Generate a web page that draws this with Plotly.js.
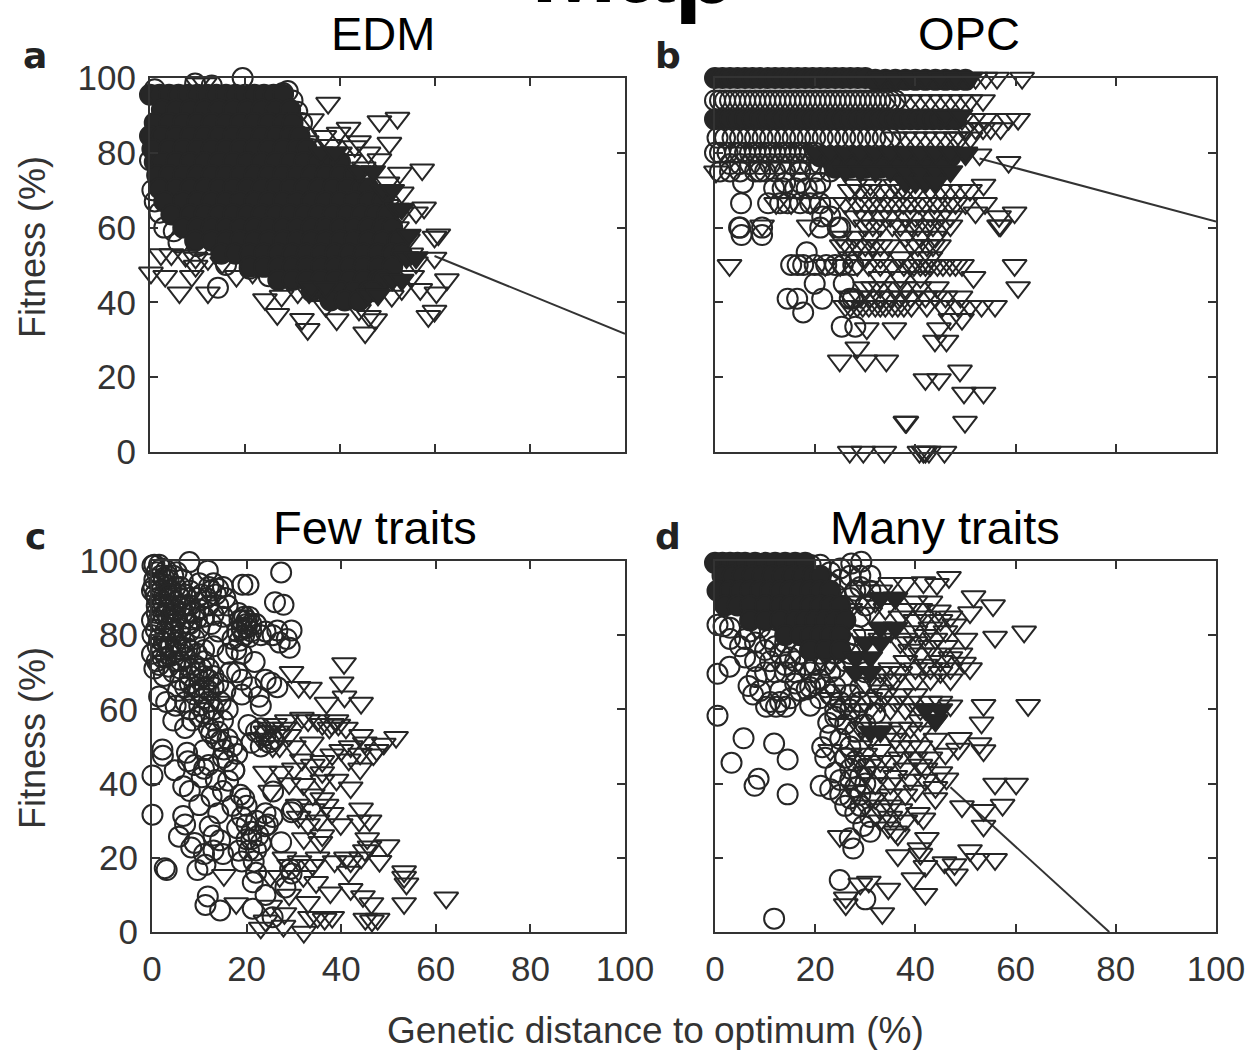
<!DOCTYPE html>
<html><head><meta charset="utf-8">
<script src="https://cdn.plot.ly/plotly-3.0.1.min.js"></script>
<style>html,body{margin:0;padding:0;background:#fff}</style></head>
<body><div id="chart" style="width:1248px;height:1050px"></div>
<script>
// Values: [fitness, [distance, distance, ...]] rows and [distance, fitness] points.
// "Core" rows stand for the areas where hundreds of overlapping open markers merge into solid black;
// individual markers cannot be read there, so they are drawn as filled markers at estimated places.
const panelTitles = ['EDM', 'OPC', 'Few traits', 'Many traits'];
const panelLetters = ['a', 'b', 'c', 'd'];
const tickValues = [0, 20, 40, 60, 80, 100];

const aCircleCore = [
 [95.5,[0,2,4,6,8,10,12,14,16,18,20,22,24,26,28]],
 [91.5,[-0.5,2.5,5.5,8.5,11.5,14.5,17.5,20.5,23.5,26.5,29.5]],
 [88,[-0.5,1,4,7,10,13,16,19,22,25,28,30]],
 [84.5,[0,2.5,5.5,8.5,11.5,14.5,17.5,20.5,23.5,26.5,29.5,31.5]],
 [81,[0.5,4,7,10,13,16,19,22,25,28,31,33]],
 [77.5,[1,2.5,5.5,8.5,11.5,14.5,17.5,20.5,23.5,26.5,29.5,32.5,35.5,38.5,40]],
 [74,[1.5,4,7,10,13,16,19,22,25,28,31,34,37,40,43]],
 [70.5,[2,5.5,8.5,11.5,14.5,17.5,20.5,23.5,26.5,29.5,32.5,35.5,38.5,41.5,44.5,46]],
 [67,[3,7,10,13,16,19,22,25,28,31,34,37,40,43,46,49]],
 [63.5,[4.5,8.5,11.5,14.5,17.5,20.5,23.5,26.5,29.5,32.5,35.5,38.5,41.5,44.5,47.5,50]],
 [60,[7,10,13,16,19,22,25,28,31,34,37,40,43,46,49,51]],
 [56.5,[9.5,13,16,19,22,25,28,31,34,37,40,43,46,49,52,52.5]],
 [53,[15,18,21,24,27,30,33,36,39,42,45,48,51,53]],
 [49.5,[21,24,27,30,33,36,39,42,45,48,51]],
 [46,[27,30,33,36,39,42,45,48,49]],
 [43,[34,37,40,43,46,47]],
 [40.5,[38,41,44]]];
const aTriangleCore = [[80,[36,39]],[75,[44,47]],[70,[49,51]],[65,[52,53]],[58,[54.5]],[52,[54,56]],[46,[51,53]],[42,[46,48]],[44,[34,37]]];
const aCircles = [[0.5,100.5],[1,97],[-0.5,94],[-1,90],[-0.8,87],[9.5,98.5],[13,98],[19.5,100],[29,96.5],[28,96],[30,94],[31,91],[32,88],[0,78],[-0.5,74],[0.5,70],[1,67],[2,64],[3,60],[5,59],[6,56],[10,55],[16,50],[21,49],[25,47],[14.3,43.9],[33,84],[34,81]];
const aTriangles = [[10,98.5],[11.5,98.5],[-0.3,82],[-0.2,78],[37.5,93.3],[34.1,88.9],[52.1,89.3],[48.3,88.4],[41.8,86.6],[39.7,85.3],[50.4,82.6],[36.7,84.4],[43.1,81.7],[57.3,75.5],[52.6,74.6],[48.3,78.2],[53,69.3],[57.7,65.3],[56,64],[60.7,58.1],[59.9,57.5],[59.9,51.9],[62.5,46.1],[60.3,42.6],[58.6,36.3],[59.9,37.7],[45.3,31.9],[33.2,32.8],[32,35.5],[39.3,35.4],[26.8,36.8],[24.2,40.8],[0.2,47.9],[3.2,47],[6.2,42.6],[12.2,42.6],[8.8,47],[2.3,52.8],[4.5,52.8],[7.5,52.4],[9.6,51.9],[12.2,51.5],[15.2,50.6],[18.2,47],[9.6,49.7],[21.6,47.9],[27.7,41.7],[31.1,42.6],[33.5,42.6],[37,39],[44,38],[46.1,36.3],[47.4,35.4],[50.9,41.7],[53,43.5],[55.2,47],[56,50.6],[56.9,43.5],[54.3,56.8],[55,53],[53,64],[50,72],[33,83],[35,80],[38,82],[40,80],[42,78],[45,76],[46,80],[44,83],[46,70],[50,66],[52,60]];

const bCircleCore = [
 [100,[0,1.5,3,4.5,6,7.5,9,10.5,12,13.5,15,16.5,18,19.5,21,22.5,24,25.5,27,28.5,30]],
 [99.5,[32,34,36,38,40,42,44,46,48,50]],
 [89,[0,1.5,3,4.5,6,7.5,9,10.5,12,13.5,15,16.5,18,19.5,21,22.5,24,25.5,27,28.5,30,31.5,33,34.5,36,37.5,39,40.5,42,43.5,45,46.5,48]],
 [79,[21,23,25,27,29,31,33,35,37,39,41,43,45,47]],
 [76,[24,27,30,33,36,39,42,45]]];
const bTriangleCore = [[100,[33,36,39,42,45,48,51]],[90,[46,49]],[80,[20,23,26,29,32,35,38,41,44,47,50]],[75,[26,29,32,35,38,41,44,47]],[72,[38,40,42,44]]];
const bCircleRows = [
 [94,[0,1,2,3,4,5,6,7,8,9,10,11,12,13,14,15,16,17,18,19,20,21,22,23,24,25,26,27,28,29,30,31,32,33,34,35,36]],
 [84,[0.5,2,3.5,5,6.5,8,9.5,11,12.5,14,15.5,17,18.5,20,21.5,23,24.5,26,27.5,29,30.5,32,33.5,35]],
 [80,[0,1,2.5,4,5,6,7,8,9,10,11,12,13,14,15,16,17,18,19,20]],
 [77,[3,5,7,9,11,13,15,17,19,21]],
 [75,[1,3,5,8,9,10,12,14,17,20,23]],[72,[5.6,14,17,21]],[70.5,[11.8,13.5,16,18.3,20]],[66.5,[5.2,10.6,13,14.5,17,19,21]],[63,[23,21.4]],[60,[4.8,5,9.4,21,24.5,25]],[58,[5.3,9.4]],[53.4,[18.3]],[50,[15.2,16.5,17.6,19.9,22.2,24,25.5,27.6]],[45,[19.9,25.7]],[41,[14.5,16.4,21.4,26.9,27.5]],[37.3,[17.6]],[33.5,[25.3,28]]];
const bTriangleRows = [[100,[52,54,56.3,61.3]],[94,[37,39,41,43,45,47,49,51,53.5]],[89,[49.3,51.6,53.9,58.6,60.5]],[86.5,[50,52,53.5,55,57]],[84,[36,38,40,42,44,46,48,49,51]],[79.5,[50,52.8]],[77.5,[58.6]],[74.9,[0.2]],[71.4,[53.6,28,31,36]],[70,[26.9,29,31,33,35,37,38,40,43,45,47,49,50.9]],[66.5,[12.2,15.2,19,23.8,26,28.4,30,31.4,33,34.5,36,37.6,39,40.7,42,43.8,45,46.9,48,50,53.9]],[64,[59.8,52]],[63,[56.7,28,30,33,35,38,40,43,45,47]],[60.5,[18.7,9.4,30,31.5,33,35.4,37,39.2,40.5,42.3,43.5,45.4,47,56.7,57]],[57.5,[25,28,31,38,41,44]],[55.2,[25.3,26.5,28.4,30,31.5,33,34.6,39.2,40.5,42.3,43.5,44.7]],[52,[27,30,33,37,41,43]],[49.9,[2.9,22,25,28.4,30.7,33,35.4,37.7,39,39.7,41,42,43,44.4,45.5,46.9,48,49.3,59.8]],[46.7,[51.6,33,37,41]],[44,[60.5,30,31.5,33,36,38,40.8,44.3]],[41.5,[27,29,31,33,35,37,39,42,44,46,49]],[39,[26,27,28.4,29.5,30.7,32,33,34,35.4,36.5,37.7,39.2,42.3,45.4,48.5,50.9,53.2,55.9]],[35.5,[49.3,47]],[33,[30.3,35.8,44.7]],[29.7,[43.9,46.2]],[27.9,[28.4]],[24.4,[24.9,30,34.2]],[21.7,[48.9]],[19.4,[42,44.7]],[15.8,[49.7,53.6]],[8,[38,38.2,49.9]],[0,[26.9,29.6,33.8,40.8,41.6,42,42.7,45.8]]];

const cCircles = [[0.1,98.8],[1,97],[2,98],[3,97.5],[4.5,96],[0.5,95],[1.5,94],[3,93.5],[5,93],[6.5,95],[0,92],[1,90],[2.5,90.5],[4,90],[6,90],[7.9,99.7],[8,92],[10,94],[11.8,97.4],[12,93],[13,94],[13.5,91],[14,88],[15.5,90],[12,88],[10,87],[8,86],[7,88],[5,87],[3,86],[1,86],[0,84],[2,83],[4,83],[6,82],[8,83],[10,82],[12.5,83],[14,81],[0.1,80],[1.5,79],[3,79],[5,78],[7,78],[9,79],[11,76],[13,77],[0,75],[1,73],[3,74],[5,73],[7,74],[9,72],[0.5,71],[2.5,69],[4.5,70],[6,68],[8,69],[10,68],[12,71],[12,68],[14,67],[15.5,65],[1.5,63.5],[3,62],[5,61],[7,62],[9,64],[11,63],[13,60],[4.5,57],[7,55],[8.5,57],[10,58],[12,55],[14,54],[13.5,52],[15.2,49.2],[17,50],[15,47],[2.2,49.2],[2.3,47.5],[4.8,43.6],[7.4,48.3],[7.6,46],[6.6,39.3],[9,45],[10.5,41.7],[11,44],[10,34.2],[8,38],[6.6,31.3],[5.7,25.7],[7,29],[8.3,22.8],[9,24],[12.2,28.5],[13,26],[14.4,24.7],[12.6,36.5],[14,32],[16.1,40.8],[17.4,43.6],[15,38],[18.7,37],[17,34],[19,31],[18.3,21.9],[19,19],[20.5,22],[21,25],[19.1,93.6],[20.4,93.6],[18.3,86],[19,84],[20,82],[18,81],[19.5,80],[21,81],[22,83],[17.8,76.1],[19,75],[16,75],[18,70],[21.7,72.8],[19,64],[22.6,63.4],[25.2,67.2],[26.5,66],[24,68],[27.3,96.9],[26,88.9],[27.8,88.2],[26.5,81.3],[25.5,80],[27,78],[29.5,81.3],[29.1,76.6],[20.4,55.8],[22,54],[23,54.9],[24,53],[24.7,51.1],[25.5,52],[23,50],[21,51],[17.4,43.6],[0.1,42.2],[0.1,31.6],[2.7,17.2],[3.1,16.7],[9.6,16.7],[11.3,18.1],[11.8,9.6],[11.3,7.3],[14.4,5.8],[21.3,6.3],[21.3,13.4],[22,16],[21.5,19],[23.9,28.5],[24,32],[22,30],[20,29],[25.6,37.9],[27.3,24.2],[29.5,32.3],[29.8,33],[29.5,15.8],[29.2,17],[28.2,12],[24,10],[25.5,4],
 [0.5,99],[1.5,99],[2.5,95.5],[3.5,95],[0.3,93],[2,92],[4,92],[5.5,91],[7,91],[1,88],[2,88],[3.5,88],[5,89],[6.5,86],[8,88],[9.5,90],[10.5,91],[11.5,90],[12.5,92],[14,92.5],[15,93],[1.3,84],[3.5,84.5],[5,84],[7,84.5],[0.8,81.5],[2.8,81],[4.5,81],[6,80],[8,81],[9.5,84.5],[11,85],[13,85.5],[15,85],[16,88],[2,76],[3.5,76.5],[5,75.5],[6.5,76],[8,76],[9.5,75],[1.5,72],[3.5,71.5],[6,71],[8,71],[10.5,71],[11,73],[7,66],[9,66],[11,66],[13,66],[5.5,65],[8,60],[10,61],[12,62],[14.5,62],[16,60],[11,59],[13,57],[15,57],[12.5,53.5],[14.5,51.5],[16,52],[18,48],[16,46],[19,81.5],[20.5,79.5],[18.5,78.5],[20,84],[17,79],[23,80],[24,81],[28.5,79],[16.5,70],[19,68],[21,66],[23,61],[11,49],[12,45],[13.5,41],[19.5,36],[20,34],[21,27],[22,22],[20,25],[23,24],[22.5,26],[24.5,29],[18,28],[25.5,31],[11,21],[13,22],[15,21],
 [1.8,96],[3.2,96],[5.2,97],[6,93],[0.7,91],[2.3,89],[3.5,91],[5,85],[2.4,85.5],[4.3,86],[6.3,88],[7.5,83],[9,86],[1.2,77],[2.5,78],[4,77],[6,77],[7.5,76.5],[2.2,74],[4,74.5],[6,73],[8,67],[10,65],[12,65],[9.5,70],[11,69],[13,69],[19,82],[20,83],[21,83],[18.5,84],[19.5,85],[20.5,85]];
const cTriangles = [[40.6,72.4],[29.5,70],[33.4,65.8],[31,66],[40.1,67.2],[40.7,63.4],[44.2,61.7],[36.9,61.7],[31.7,57.7],[33,57],[36,56],[38,56],[39.4,55.8],[37.5,55],[44.2,53],[45,51],[51.6,52.5],[49,50.7],[46.8,47.8],[47.5,49],[38.1,47.8],[41.6,46.4],[40,49],[31.7,46.4],[34,45],[23.9,43.1],[27.3,43.1],[33.8,51],[30,50],[27,53],[24,54],[26,56],[44,44],[36,43],[42,38.9],[32,39.8],[36,40.8],[39,41],[25,38],[30.8,34.2],[36.9,34.2],[34,33],[38,32],[44.2,33.2],[43.8,29.9],[39.9,29],[45.5,25.2],[46,23],[49.8,23.3],[48.1,19.1],[44.2,20],[32.1,25.2],[35.6,24.2],[36,26],[53.3,14.8],[53.3,16.3],[53.8,13],[53.3,7.7],[62.2,9.2],[15.2,15.3],[17.8,7.7],[23,1.1],[27.8,1.6],[30.8,-0.3],[32.1,0],[33.4,4],[35,4],[36.5,3.5],[38.1,4],[45.1,3.5],[46.5,3],[47.7,3.5],[41.6,16.2],[37.7,10.6],[34.7,13.4],[31.2,19],[38.6,19],[42,11.5],[44.6,9.6],[46.4,7.7],[29,10],[25,15],[28,20],[35,20],[41,20],[14,62],
 [25,55],[26.5,54],[28,55],[29,53],[23,52],[25.5,50],[27,50],[28.5,57],[35,57],[39,57],[41,55],[42,50],[44,48],[36,46],[30,44],[29,40],[34,37],[36,36],[31,31],[33,29],[35,30],[46,30],[45,22],[42,19],[34,18],[32,15],[27,15],[29,18],[33,8],[25,7],[24,3],[28,5]];

const dCircleCore = [[99.5,[0,1.5,3,4.5,6,8,10,12,14,16,18]],[96,[-0.5,1.5,3.5,5.5,7.5,9.5,11.5,13.5,15.5,17.5,19.5,21]],[92,[0.5,3,5,7,9,11,13,15,17,19,21,23]],[88,[2,4.5,7,10,13,15,17,19,21,23,25]],[84,[7,10,13,16,18,20,22,24,26]],[80,[14,17,19,21,23,25]],[76,[19,22,25]]];
const dTriangleCore = [[90,[33,36]],[82,[33,36]],[78,[30,33]],[74,[28,31]],[70,[28,31]],[60,[42,45]],[57,[44]],[54,[31,33]]];
const dCircles = [[0.5,82.8],[1.7,82.4],[3,82],[0.5,69.6],[2.9,71.5],[6.7,66.3],[8.3,68.7],[7.6,64],[9,65],[0.5,58.3],[5.7,52.2],[11.8,50.8],[14.5,46.5],[3.3,45.6],[8.7,41.3],[7.9,39.4],[14.5,37.1],[21.1,39.4],[23,38.5],[11.8,3.6],[24.9,14],[27.6,22.5],[26.9,25.3],[30,8.8],[29.6,28.6],[21.4,49.8],[22.6,56.4],[12.2,60.7],[10.2,60.7],[14.1,60.7],[11,62],[13,62],[18.3,65.4],[16,67],[13,65],[12,70],[14,70],[16,73],[19,70],[21,68],[29.2,99.8],[27.2,99.3],[19.1,98.9],[11.4,100.3],[21,99],[23,97],[25,95],[27,96],[29,96],[28,92],[24,91],[22,89],[25,87],[21,85],[24,82],[26,84],[28,80],[22,78],[19,76],[21,75],[24,75],[26,73],[23,70],[8,78],[10,76],[5,77],[3,79],[6,74],[8,73],[11,73],[14,78],[24,66],[25,62],[27,60],[29,62],[24,58],[26,56],[25,52],[27,50],[26,47],[28,46],[30,44],[27,41],[28,39],[29,37],[27,36],[26,34],[28,32],
 [6,79],[7,81],[9,82],[11,79],[12,77],[13,75],[15,74],[17,75],[18,72],[20,72],[22,72],[24,71],[14,72],[10,70],[16,70],[17,65],[19,66],[20,67],[22,66],[21,63],[23,64],[15,63],[19,61],[24,60],[27,64],[29,66],[30,70],[26,78],[27,75],[29,85],[30,88],[31,92],[29,93],[27,90],[31,96],[25,98],[23,94],[30,56],[32,59],[28,54],[23,53],[22,47],[24,43],[25,41],[27,44],[29,42],[30,40],[25,37],[29,34],[31,31],[31,27]];
const dTriangles = [[46.7,95.6],[44.3,93.7],[41.6,94.2],[38,94],[35,94],[33,92],[36,90],[40,89],[43,89],[51.6,90.4],[55.5,88],[50.9,86.1],[44.7,86.6],[47,85],[61.7,80.9],[55.9,79.5],[50,79],[47.8,82.8],[46,81],[43,82],[40,84],[37,85],[35,81],[37,78],[40,78],[43,77],[46,77],[49,75],[45,73],[42,72],[38,73],[35,71],[33,70],[36,68],[40,68],[43,68],[47,68],[50.9,71],[49.7,72.5],[30,67],[33,65],[37,64],[40,64],[43,62],[45,62],[47,61],[53.6,61.1],[62.5,61.1],[53.2,56.4],[53.6,48.9],[52.8,50.8],[48.9,52.2],[48.5,49.3],[46,48],[44,52],[41,54],[44,57],[41,57],[38,60],[35,60],[31,60],[28,58],[25,56],[33,55],[36,52],[33,49],[30,48],[37,47],[41,45],[23,49],[30,43],[33,43],[36,42],[39,41],[42,41],[44,39],[46.2,41.3],[45,43],[55.9,39.9],[60.1,39.9],[57.4,34.2],[53.6,32.8],[49.3,33.8],[53.6,28.6],[50.9,22],[55.9,19.6],[52.4,19.6],[48.1,15.4],[45.8,18.7],[47.8,18.2],[42,17.7],[40.8,22.5],[41,21],[42.3,25.3],[41.6,30.5],[40.5,32],[36.5,20.6],[34.6,28.1],[33,30],[35,31],[36,27],[36.5,26.2],[30,34],[32,36],[35,37],[38,37],[40,38],[44,36],[28,38],[24.9,25.8],[34.6,11.6],[39.6,14.4],[42,10.2],[33.4,5],[30.7,13.5],[29,13],[26.1,9.2],[26.1,7.4],[62.7,-0.2],[29,89],[27,87],[31,86],[33,79],[30,80],[25,79],[28,74],[23,73],[23,63],[26,65],[29,55],
 [30,93],[32,89],[34,87],[38,87],[41,87],[42,85],[45,84],[40,81],[38,79],[42,80],[44,79],[39,76],[41,75],[44,75],[47,74],[47,71],[45,70],[43,71],[40,71],[37,70],[35,68],[32,67],[34,64],[36,62],[39,62],[41,60],[33,62],[31,63],[27,62],[29,60],[26,60],[39,55],[37,55],[35,54],[31,52],[29,50],[27,48],[37,50],[39,50],[41,50],[43,47],[40,47],[35,46],[33,46],[31,45],[29,46],[38,44],[42,44],[35,40],[32,40],[37,33],[35,34],[33,33],[31,36],[38,30]];

// Straight tails visible to the right of each cloud: [x0, y0], [x1, y1]
const aLine = [[59.9,52.4],[100,31.6]];
const bLine = [[52.8,78.5],[100,61.6]];
const dLine = [[47,39],[78.7,0]];

const INK = '#262626';
const rowsX = rows => rows.flatMap(r => r[1]);
const rowsY = rows => rows.flatMap(r => r[1].map(() => r[0]));
const toPts = rows => ({x: rowsX(rows), y: rowsY(rows)});
const pairs = list => ({x: list.map(p => p[0]), y: list.map(p => p[1])});

function marks(pts, axis, symbol, size) {
  return {type:'scatter', mode:'markers', x:pts.x, y:pts.y, xaxis:'x'+axis, yaxis:'y'+axis, cliponaxis:false,
    hoverinfo:'skip', showlegend:false,
    marker:{symbol, size, color:INK, line:{color:INK, width:2}}};
}
function tail(seg, axis) {
  return {type:'scatter', mode:'lines', x:seg.map(p=>p[0]), y:seg.map(p=>p[1]), xaxis:'x'+axis, yaxis:'y'+axis,
    showlegend:false, hoverinfo:'skip', line:{color:'#333', width:2}};
}
const CS = 20, TS = 21;
const traces = [
  tail(aLine,''), marks(pairs(aCircles),'', 'circle-open', CS), marks(pairs(aTriangles),'', 'triangle-down-open', TS),
  marks(toPts(aCircleCore),'', 'circle', CS), marks(toPts(aTriangleCore),'', 'triangle-down', TS),
  tail(bLine,'2'), marks(toPts(bCircleRows),'2', 'circle-open', CS), marks(toPts(bTriangleRows),'2', 'triangle-down-open', TS),
  marks(toPts(bCircleCore),'2', 'circle', CS), marks(toPts(bTriangleCore),'2', 'triangle-down', TS),
  marks(pairs(cCircles),'3', 'circle-open', CS), marks(pairs(cTriangles),'3', 'triangle-down-open', TS),
  tail(dLine,'4'), marks(pairs(dCircles),'4', 'circle-open', CS), marks(pairs(dTriangles),'4', 'triangle-down-open', TS),
  marks(toPts(dCircleCore),'4', 'circle', CS), marks(toPts(dTriangleCore),'4', 'triangle-down', TS)
];

const W = 1248, H = 1050;
function axis(a0, a1, anchor, showLabels, isY) {
  return {domain: isY ? [1-a1/H, 1-a0/H] : [a0/W, a1/W], anchor, range:[0,100], tickmode:'array', tickvals:tickValues,
    showticklabels:showLabels, ticks:'inside', ticklen:8, tickwidth:2, tickcolor:'#333', showline:true, linecolor:'#333', linewidth:2,
    mirror:'ticks', showgrid:false, zeroline:false, tickfont:{family:'Liberation Sans, Arial, sans-serif', size:35, color:'#333'}, automargin:false, ticklabelstandoff:5};
}
const ann = (text, x, y, size, extra={}) => Object.assign({text, x:x/W, y:1-y/H, xref:'paper', yref:'paper', showarrow:false,
  xanchor:'center', yanchor:'middle', font:{family:'Liberation Sans, Arial, sans-serif', size, color:'#000'}}, extra);
const letterFont = {family:'DejaVu Sans, sans-serif', size:36, color:'#222'};
const greyFont = {family:'Liberation Sans, Arial, sans-serif', size:36, color:'#333'};
const xTitleFont = {family:'Liberation Sans, Arial, sans-serif', size:37, color:'#333'};
const annotations = [
  ann(panelTitles[0], 383, 33, 47), ann(panelTitles[1], 969, 33, 47), ann(panelTitles[2], 375, 527, 47), ann(panelTitles[3], 945, 527, 47),
  ann('<b>'+panelLetters[0]+'</b>', 35, 55, 36, {font:letterFont}), ann('<b>'+panelLetters[1]+'</b>', 668, 55, 36, {font:letterFont}),
  ann('<b>'+panelLetters[2]+'</b>', 35, 536, 36, {font:letterFont}), ann('<b>'+panelLetters[3]+'</b>', 668, 536, 36, {font:letterFont}),
  ann('Fitness (%)', 32, 247, 36, {textangle:-90, font:greyFont}),
  ann('Fitness (%)', 32, 738, 36, {textangle:-90, font:greyFont}),
  ann('Genetic distance to optimum (%)', 655, 1030, 37, {font:xTitleFont})
];
const layout = {
  width:W, height:H, autosize:false, margin:{l:0,r:0,t:0,b:0}, paper_bgcolor:'#fff', plot_bgcolor:'#fff',
  title:{text:'<b>Map</b>', x:634/W, xanchor:'center', y:1-2/H, yanchor:'bottom', font:{family:'Liberation Sans, Arial, sans-serif', size:103, color:'#000'}},
  xaxis: axis(150,625,'y',false,false), yaxis: axis(78,452,'x',true,true),
  xaxis2: axis(715,1216,'y2',false,false), yaxis2: axis(78,452,'x2',false,true),
  xaxis3: axis(152,625,'y3',true,false), yaxis3: axis(561,932,'x3',true,true),
  xaxis4: axis(715,1216,'y4',true,false), yaxis4: axis(561,932,'x4',false,true),
  annotations
};
Plotly.newPlot('chart', traces, layout, {displayModeBar:false, staticPlot:true});
</script></body></html>
